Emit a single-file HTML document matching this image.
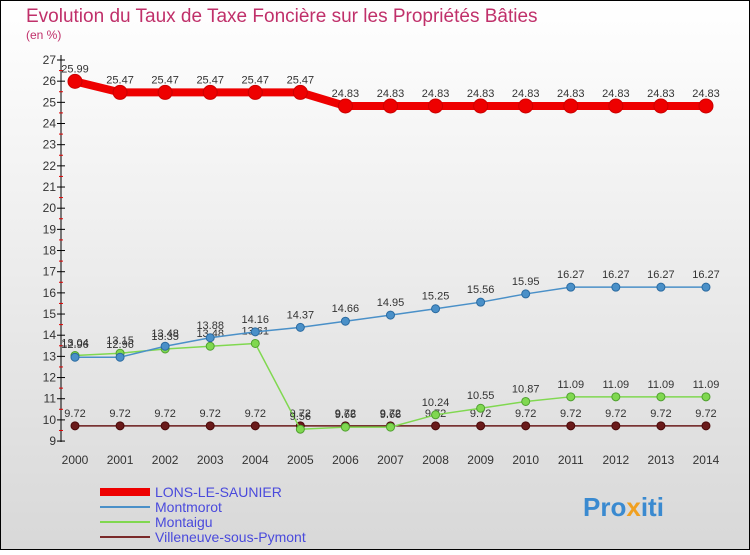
<!DOCTYPE html>
<html><head><meta charset="utf-8"><style>
body{margin:0;width:750px;height:550px;overflow:hidden;font-family:"Liberation Sans",sans-serif}
</style></head><body>
<svg width="750" height="550" xmlns="http://www.w3.org/2000/svg">
<defs><linearGradient id="bg" x1="0" y1="0" x2="0" y2="1"><stop offset="0" stop-color="#ffffff"/><stop offset="1" stop-color="#d8d8d8"/></linearGradient></defs>
<rect x="0.5" y="0.5" width="749" height="549" fill="url(#bg)" stroke="#000"/>
<text x="26" y="22" font-size="19" fill="#c0306a">Evolution du Taux de Taxe Foncière sur les Propriétés Bâties</text>
<text x="26" y="39" font-size="12" fill="#c0306a">(en %)</text>
<g id="axes"></g><g id="series"></g>
<g>
<rect x="100" y="488" width="50" height="8" fill="#ee0000"/>
<text x="155" y="497" font-size="14" fill="#4a4adc">LONS-LE-SAUNIER</text>
<line x1="100" y1="507" x2="150" y2="507" stroke="#4a90c8" stroke-width="2"/>
<text x="155" y="512" font-size="14" fill="#4a4adc">Montmorot</text>
<line x1="100" y1="522" x2="150" y2="522" stroke="#80d850" stroke-width="2"/>
<text x="155" y="527" font-size="14" fill="#4a4adc">Montaigu</text>
<line x1="100" y1="537" x2="150" y2="537" stroke="#7a2a2a" stroke-width="2"/>
<text x="155" y="542" font-size="14" fill="#4a4adc">Villeneuve-sous-Pymont</text>
</g>
<text x="583" y="516" font-size="26" font-weight="bold" fill="#3a8ad0">Pro<tspan fill="#f0a020">x</tspan><tspan fill="#3a8ad0">iti</tspan></text>
</svg>
<script>
const years=[2000,2001,2002,2003,2004,2005,2006,2007,2008,2009,2010,2011,2012,2013,2014];
const lons=[25.99,25.47,25.47,25.47,25.47,25.47,24.83,24.83,24.83,24.83,24.83,24.83,24.83,24.83,24.83];
const montmorot=[12.96,12.96,13.48,13.88,14.16,14.37,14.66,14.95,15.25,15.56,15.95,16.27,16.27,16.27,16.27];
const montaigu=[13.04,13.15,13.35,13.48,13.61,9.56,9.66,9.66,10.24,10.55,10.87,11.09,11.09,11.09,11.09];
const villeneuve=[9.72,9.72,9.72,9.72,9.72,9.72,9.72,9.72,9.72,9.72,9.72,9.72,9.72,9.72,9.72];
const yTicks=[9,10,11,12,13,14,15,16,17,18,19,20,21,22,23,24,25,26,27];
const NS="http://www.w3.org/2000/svg";
const X=i=>75+i*45.07, Y=v=>60+(27-v)*21.17;
function mk(p,t,a){const e=document.createElementNS(NS,t);for(const k in a)e.setAttribute(k,a[k]);p.appendChild(e);return e;}
const ax=document.getElementById('axes');
let l=mk(ax,'line',{x1:61,y1:55,x2:61,y2:442,stroke:'#000'});


yTicks.forEach(v=>{
 const y=Y(v);
 mk(ax,'line',{x1:57,y1:y,x2:65,y2:y,stroke:'#000'});
 if(v<27)mk(ax,'line',{x1:59,y1:y-10.6,x2:63,y2:y-10.6,stroke:'#e00000'});
 const t=mk(ax,'text',{x:56,y:y+4,'font-size':12,'text-anchor':'end',fill:'#333'});t.textContent=v;
 
 
});
years.forEach((yr,i)=>{
 const t=mk(ax,'text',{x:X(i),y:464,'font-size':12,'text-anchor':'middle',fill:'#333'});t.textContent=yr;
 
 
});
const sg=document.getElementById('series');
function series(name,data,color,w,r,stroke){
 const g=mk(sg,'g',{});
 
 
 const p=mk(g,'polyline',{points:data.map((v,i)=>X(i)+','+Y(v)).join(' '),fill:'none',stroke:color,'stroke-width':w});
 
 
 data.forEach((v,i)=>{
  const c=mk(g,'circle',{cx:X(i),cy:Y(v),r:r,fill:color,stroke:stroke,'stroke-width':1});
  
  
  const t=mk(g,'text',{x:X(i),y:Y(v)-9,'font-size':11,'text-anchor':'middle',fill:'#333'});t.textContent=v.toFixed(2);
  
  
 });
}
series('villeneuve',villeneuve,'#6a1a1a',1.5,4,'#4a0a0a');
series('montaigu',montaigu,'#80d850',1.5,4,'#50a030');
series('montmorot',montmorot,'#4a90c8',1.5,4,'#2a6aa0');
series('lons',lons,'#ee0000',8,7,'#cc0000');
</script>
</body></html>
